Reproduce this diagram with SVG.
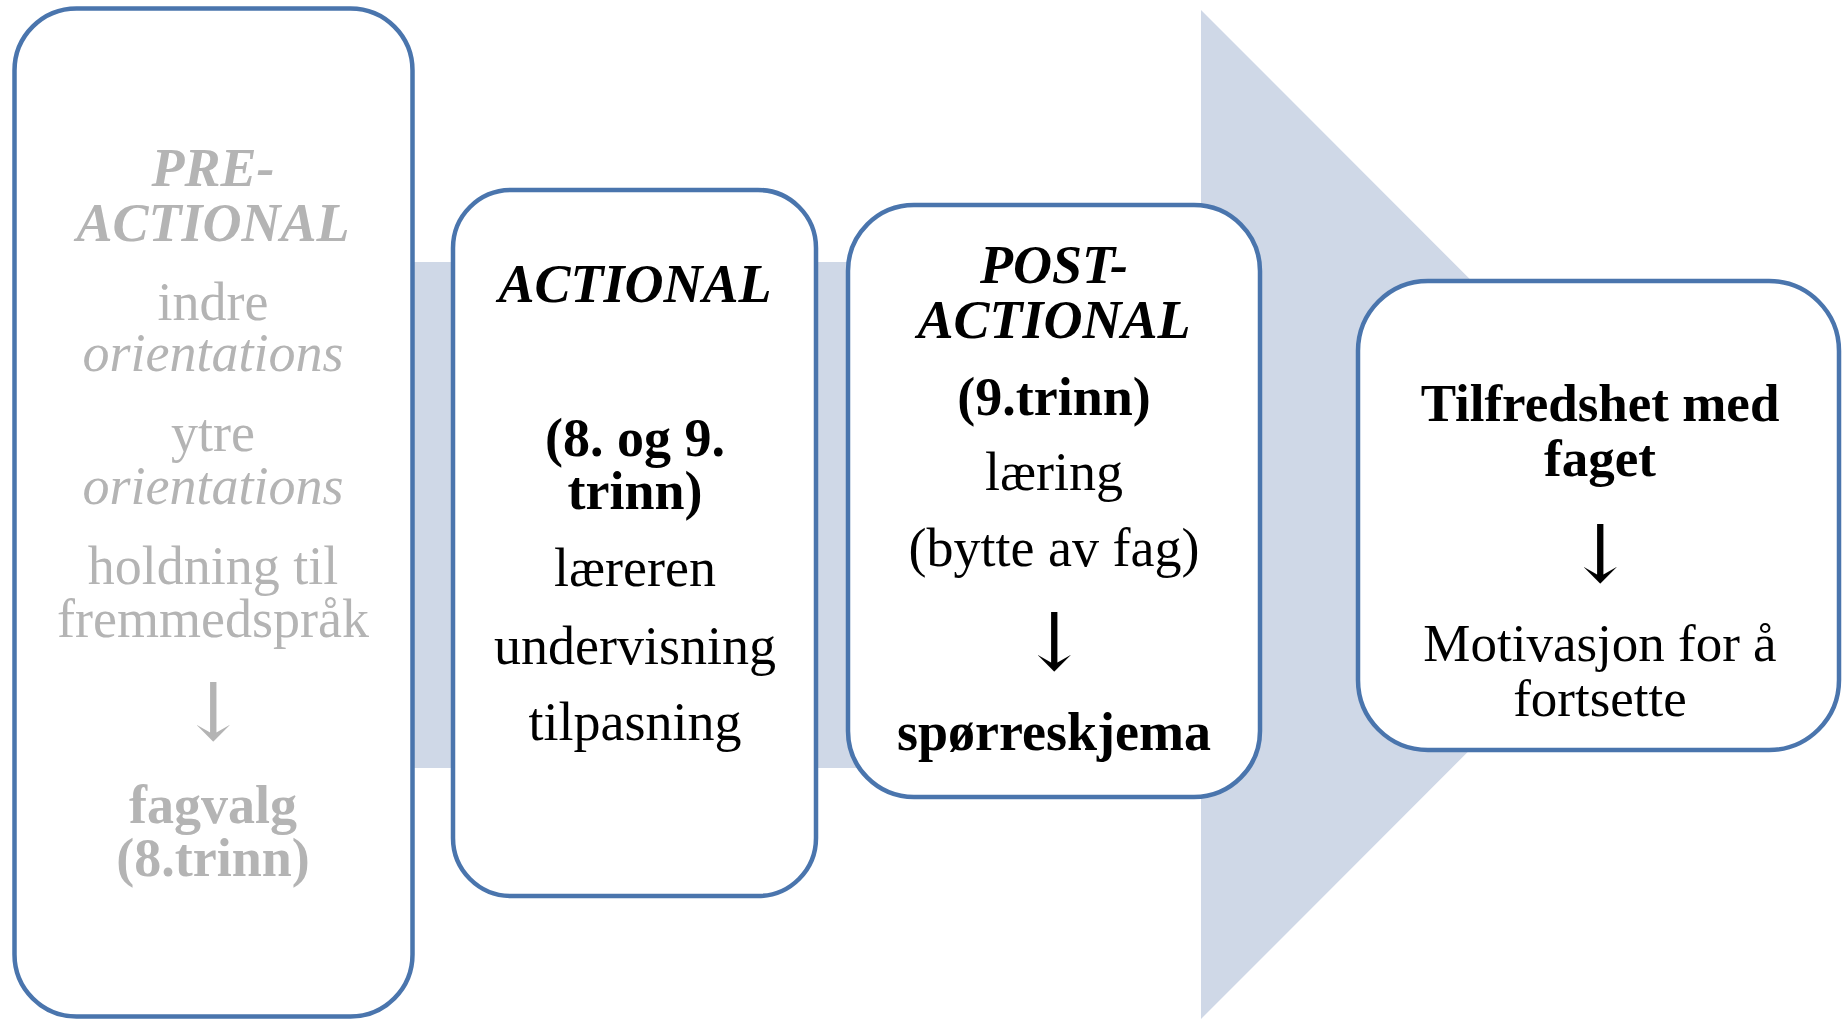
<svg xmlns="http://www.w3.org/2000/svg" width="1843" height="1019" viewBox="0 0 1843 1019">
<style>
.box{fill:#ffffff;stroke:#4a75ad;stroke-width:4.5}
.t{font-family:"Liberation Serif","Times New Roman",serif;font-size:54px;text-anchor:middle}
.g{fill:#b4b4b4}
.k{fill:#000000}
.b{font-weight:bold}
.i{font-style:italic}
.arr{font-family:"DejaVu Serif","Liberation Serif",serif;font-size:80px;text-anchor:middle}
</style>
<rect width="1843" height="1019" fill="#ffffff"/>
<g id="connectors">
<path d="M30 262 H1201 V10 L1705 514.5 L1201 1019 V768 H30 Z" fill="#cfd8e7"/>
</g>
<g id="pre-actional">
<rect class="box" x="14.5" y="8.5" width="398" height="1008" rx="62" ry="62"/>
<text class="t g b i" x="213" y="186">PRE-<tspan x="213" y="241">ACTIONAL</tspan></text>
<text class="t g" x="213" y="320">indre<tspan class="i" x="213" y="371">orientations</tspan></text>
<text class="t g" x="213" y="451">ytre<tspan class="i" x="213" y="504">orientations</tspan></text>
<text class="t g" x="213" y="584">holdning til<tspan x="213" y="637">fremmedspråk</tspan></text>
<text class="arr g" x="213" y="740">↓</text>
<text class="t g b" x="213" y="823">fagvalg<tspan x="213" y="876">(8.trinn)</tspan></text>
</g>
<g id="actional">
<rect class="box" x="453" y="190" width="363" height="706" rx="58" ry="58"/>
<text class="t k b i" x="635" y="302">ACTIONAL</text>
<text class="t k b" x="635" y="456">(8. og 9.<tspan x="635" y="509">trinn)</tspan></text>
<text class="t k" x="635" y="586">læreren</text>
<text class="t k" x="635" y="664">undervisning</text>
<text class="t k" x="635" y="740">tilpasning</text>
</g>
<g id="post-actional">
<rect class="box" x="848" y="205" width="412" height="592" rx="66" ry="66"/>
<text class="t k b i" x="1054" y="283">POST-<tspan x="1054" y="338">ACTIONAL</tspan></text>
<text class="t k b" x="1054" y="415">(9.trinn)</text>
<text class="t k" x="1054" y="490">læring</text>
<text class="t k" x="1054" y="566">(bytte av fag)</text>
<text class="arr k" x="1054" y="670">↓</text>
<text class="t k b" x="1054" y="750">spørreskjema</text>
</g>
<g id="tilfredshet">
<rect class="box" x="1358" y="281" width="481" height="469" rx="70" ry="70"/>
<text class="t k b" x="1600" y="421" style="font-size:53px">Tilfredshet med<tspan x="1600" y="476">faget</tspan></text>
<text class="arr k" x="1600" y="582">↓</text>
<text class="t k" x="1600" y="661" style="font-size:53px">Motivasjon for å<tspan x="1600" y="716">fortsette</tspan></text>
</g>
</svg>
